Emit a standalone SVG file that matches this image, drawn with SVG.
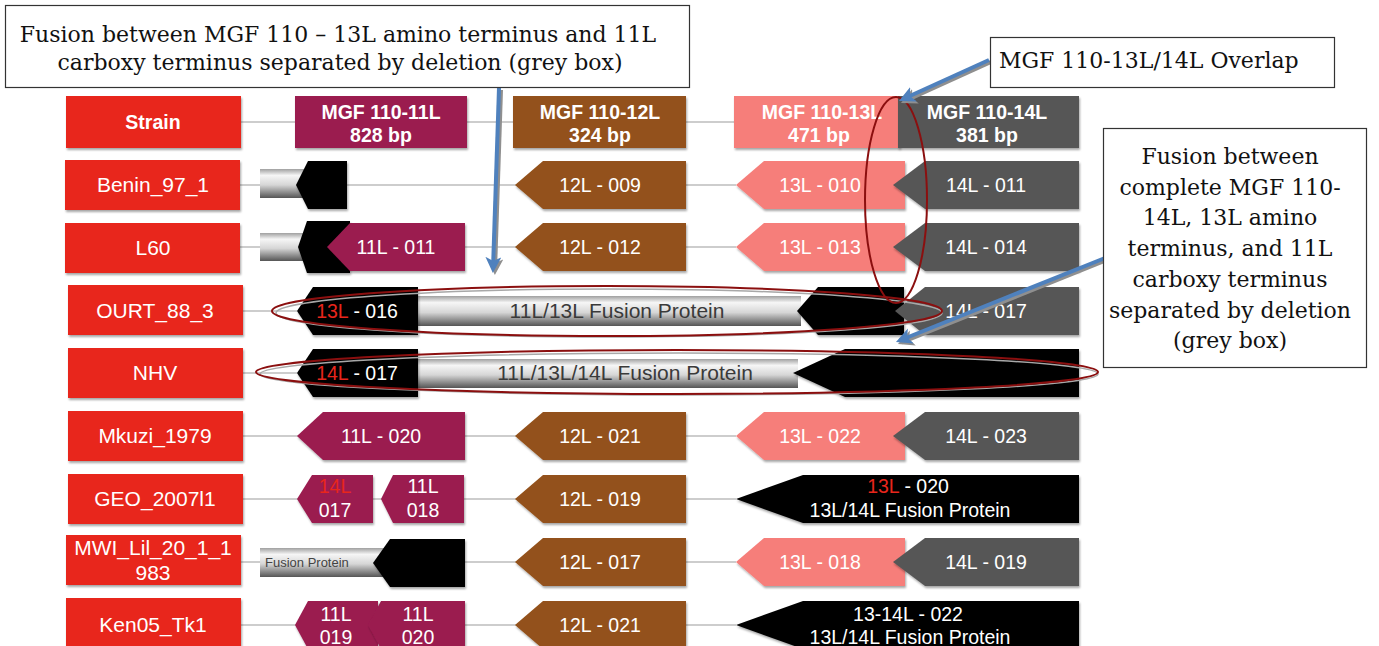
<svg xmlns="http://www.w3.org/2000/svg" width="1379" height="646" viewBox="0 0 1379 646">
<defs>
<style>
.st{fill:#e8261c}
.m{fill:#9b1b50}
.b{fill:#93511a}
.s{fill:#f67e7a}
.g{fill:#575757}
.k{fill:#000}
.bar{fill:url(#gbar)}
.t{font-family:"Liberation Sans",Arial,sans-serif;fill:#fff;text-anchor:middle;font-size:19.5px}
.n{font-family:"Liberation Sans",Arial,sans-serif;fill:#fff;text-anchor:middle;font-size:21px}
.h{font-family:"Liberation Sans",Arial,sans-serif;fill:#fff;text-anchor:middle;font-size:19.5px;font-weight:bold}
.d{font-family:"Liberation Sans",Arial,sans-serif;fill:#3a3a3a;text-anchor:middle;font-size:21px}
.r{fill:#e8261c}
.ln{stroke:#bdbdbd;stroke-width:1.5;fill:none}
.cb{fill:#fff;stroke:#333;stroke-width:1.2}
.ct{font-family:"DejaVu Serif","Liberation Serif",serif;fill:#111;font-size:22px}
.ar{stroke:#4f81bd;stroke-width:4;fill:none}
.as{stroke:#8f8f8f;stroke-width:4;fill:none}
.el{fill:none;stroke:#8b0f0f;stroke-width:2}
.eg{fill:none;stroke:#a8a8a8;stroke-width:1.5}
.sh{filter:url(#sh)}
</style>
<linearGradient id="gbar" x1="0" y1="0" x2="0" y2="1">
<stop offset="0" stop-color="#a0a0a0"/>
<stop offset="0.22" stop-color="#f6f6f6"/>
<stop offset="0.55" stop-color="#d6d6d6"/>
<stop offset="1" stop-color="#555"/>
</linearGradient>
<filter id="sh" x="-5%" y="-10%" width="110%" height="130%">
<feDropShadow dx="1" dy="2" stdDeviation="1.2" flood-color="#000" flood-opacity="0.35"/>
</filter>
<marker id="ah" markerWidth="4.5" markerHeight="4.5" refX="3" refY="2" orient="auto" markerUnits="strokeWidth">
<path d="M0,0 L4,2 L0,4 L1,2 z" fill="#4f81bd"/>
</marker>
<marker id="ahs" markerWidth="4.5" markerHeight="4.5" refX="3" refY="2" orient="auto" markerUnits="strokeWidth">
<path d="M0,0 L4,2 L0,4 L1,2 z" fill="#8f8f8f"/>
</marker>
</defs>
<rect width="1379" height="646" fill="#fff"/>

<g id="connectors">
<line class="ln" x1="240" y1="122" x2="734" y2="122"/>
<line class="ln" x1="240" y1="185" x2="736" y2="185"/>
<line class="ln" x1="240" y1="247" x2="736" y2="247"/>
<line class="ln" x1="243" y1="311" x2="297" y2="311"/>
<line class="ln" x1="243" y1="373" x2="297" y2="373"/>
<line class="ln" x1="243" y1="436" x2="736" y2="436"/>
<line class="ln" x1="243" y1="499" x2="736" y2="499"/>
<line class="ln" x1="240" y1="562" x2="736" y2="562"/>
<line class="ln" x1="240" y1="625" x2="736" y2="625"/>
</g>

<g id="header">
<rect class="st sh" x="66" y="96" width="175" height="52"/>
<text class="h" x="153" y="129" font-size="21">Strain</text>
<rect class="m sh" x="295" y="96" width="172" height="52"/>
<text class="h" x="381" y="119">MGF 110-11L</text><text class="h" x="381" y="142">828 bp</text>
<rect class="b sh" x="513" y="96" width="173" height="52"/>
<text class="h" x="600" y="119">MGF 110-12L</text><text class="h" x="600" y="142">324 bp</text>
<rect class="s sh" x="734" y="96" width="166" height="52"/>
<text class="h" x="822" y="119">MGF 110-13L</text><text class="h" x="819" y="142">471 bp</text>
<rect class="g sh" x="898" y="96" width="181" height="52"/>
<text class="h" x="987" y="119">MGF 110-14L</text><text class="h" x="987" y="142">381 bp</text>
</g>

<g id="row-benin">
<rect class="st sh" x="65" y="160" width="175" height="50"/>
<text class="n" x="153" y="192">Benin_97_1</text>
<rect class="bar" x="260" y="169" width="47" height="29"/>
<polygon class="k sh" points="296,185 308,161 347,161 347,209 308,209"/>
<polygon class="b sh" points="515,185 543,161 686,161 686,209 543,209"/>
<text class="t" x="600" y="192">12L - 009</text>
<polygon class="s sh" points="736,185 764,161 905,161 905,209 764,209"/>
<text class="t" x="820" y="192">13L - 010</text>
<polygon class="g sh" points="893,185 925,161 1079,161 1079,209 925,209"/>
<text class="t" x="986" y="192">14L - 011</text>
</g>

<g id="row-l60">
<rect class="st sh" x="65" y="223" width="175" height="50"/>
<text class="n" x="153" y="255">L60</text>
<rect class="bar" x="260" y="233" width="45" height="28"/>
<polygon class="k sh" points="298,247 307,221 350,221 350,273 307,273"/>
<polygon class="m sh" points="327,247 350,223 465,223 465,271 350,271"/>
<text class="t" x="396" y="254">11L - 011</text>
<polygon class="b sh" points="515,247 543,223 686,223 686,271 543,271"/>
<text class="t" x="600" y="254">12L - 012</text>
<polygon class="s sh" points="736,247 764,223 905,223 905,271 764,271"/>
<text class="t" x="820" y="254">13L - 013</text>
<polygon class="g sh" points="893,247 925,223 1079,223 1079,271 925,271"/>
<text class="t" x="986" y="254">14L - 014</text>
</g>

<g id="row-ourt">
<rect class="st sh" x="68" y="285" width="175" height="50"/>
<text class="n" x="155" y="318">OURT_88_3</text>
<rect class="bar" x="416" y="296" width="385" height="30"/>
<text class="d" x="617" y="318">11L/13L Fusion Protein</text>
<polygon class="k sh" points="297,311 313,287 418,287 418,335 313,335"/>
<text class="t" x="357" y="318"><tspan class="r">13L</tspan> - 016</text>
<polygon class="k sh" points="797,311 818,287 904,287 904,335 818,335"/>
<polygon class="g sh" points="895,311 925,287 1079,287 1079,335 925,335"/>
<text class="t" x="986" y="318">14L - 017</text>
</g>

<g id="row-nhv">
<rect class="st sh" x="68" y="348" width="175" height="50"/>
<text class="n" x="155" y="380">NHV</text>
<rect class="bar" x="416" y="359" width="382" height="29"/>
<text class="d" x="625" y="380">11L/13L/14L Fusion Protein</text>
<polygon class="k sh" points="297,373 313,349 418,349 418,397 313,397"/>
<text class="t" x="357" y="380"><tspan class="r">14L</tspan> - 017</text>
<polygon class="k sh" points="793,373 845,349 1079,349 1079,397 845,397"/>
</g>

<g id="row-mkuzi">
<rect class="st sh" x="68" y="411" width="175" height="50"/>
<text class="n" x="155" y="443">Mkuzi_1979</text>
<polygon class="m sh" points="297,436 323,412 465,412 465,460 323,460"/>
<text class="t" x="381" y="443">11L - 020</text>
<polygon class="b sh" points="515,436 543,412 686,412 686,460 543,460"/>
<text class="t" x="600" y="443">12L - 021</text>
<polygon class="s sh" points="736,436 764,412 905,412 905,460 764,460"/>
<text class="t" x="820" y="443">13L - 022</text>
<polygon class="g sh" points="893,436 925,412 1079,412 1079,460 925,460"/>
<text class="t" x="986" y="443">14L - 023</text>
</g>

<g id="row-geo">
<rect class="st sh" x="68" y="474" width="175" height="50"/>
<text class="n" x="155" y="506">GEO_2007l1</text>
<polygon class="m sh" points="297,499 312,475 373,475 373,523 312,523"/>
<text class="t" x="335" y="493"><tspan class="r">14L</tspan></text>
<text class="t" x="335" y="517">017</text>
<polygon class="m sh" points="381,499 393,475 464,475 464,523 393,523"/>
<text class="t" x="423" y="493">11L</text>
<text class="t" x="423" y="517">018</text>
<polygon class="b sh" points="515,499 543,475 686,475 686,523 543,523"/>
<text class="t" x="600" y="506">12L - 019</text>
<polygon class="k sh" points="736,499 803,475 1079,475 1079,523 803,523"/>
<text class="t" x="908" y="493"><tspan class="r">13L</tspan> - 020</text>
<text class="t" x="910" y="517" font-size="20.5">13L/14L Fusion Protein</text>
</g>

<g id="row-mwi">
<rect class="st sh" x="66" y="535" width="175" height="50"/>
<text class="n" x="153" y="555">MWI_Lil_20_1_1</text>
<text class="n" x="153" y="580">983</text>
<rect class="bar" x="260" y="548" width="132" height="29"/>
<text x="265" y="567" font-family="Liberation Sans, Arial, sans-serif" font-size="13" fill="#444">Fusion Protein</text>
<polygon class="k sh" points="373,563 390,539 465,539 465,587 390,587"/>
<polygon class="b sh" points="515,562 543,538 686,538 686,586 543,586"/>
<text class="t" x="600" y="569">12L - 017</text>
<polygon class="s sh" points="736,562 764,538 905,538 905,586 764,586"/>
<text class="t" x="820" y="569">13L - 018</text>
<polygon class="g sh" points="893,562 925,538 1079,538 1079,586 925,586"/>
<text class="t" x="986" y="569">14L - 019</text>
</g>

<g id="row-ken05">
<rect class="st sh" x="66" y="598" width="175" height="52"/>
<text class="n" x="153" y="632">Ken05_Tk1</text>
<polygon class="m sh" points="295,625 308,601 378,601 378,649 308,649"/>
<text class="t" x="336" y="621">11L</text>
<text class="t" x="336" y="644">019</text>
<polygon class="m sh" points="368,625 381,601 465,601 465,649 381,649"/>
<text class="t" x="418" y="621">11L</text>
<text class="t" x="418" y="644">020</text>
<polygon class="b sh" points="515,625 543,601 686,601 686,649 543,649"/>
<text class="t" x="600" y="632">12L - 021</text>
<polygon class="k sh" points="736,625 803,601 1079,601 1079,649 803,649"/>
<text class="t" x="908" y="621">13-14L - 022</text>
<text class="t" x="910" y="644" font-size="20.5">13L/14L Fusion Protein</text>
</g>

<g id="highlights">
<ellipse class="eg" cx="609" cy="313" rx="333" ry="24"/>
<ellipse class="el" cx="607" cy="311" rx="335" ry="25"/>
<ellipse class="eg" cx="679" cy="374" rx="419" ry="21"/>
<ellipse class="el" cx="677" cy="372" rx="421" ry="22"/>
<ellipse class="el" cx="896" cy="200" rx="31" ry="103"/>
</g>

<g id="arrows">
<line class="as" x1="501" y1="90" x2="495" y2="271" marker-end="url(#ahs)"/>
<line class="ar" x1="499" y1="88" x2="493" y2="269" marker-end="url(#ah)"/>
<line class="as" x1="991" y1="62" x2="904.6" y2="101.3" marker-end="url(#ahs)"/>
<line class="ar" x1="989" y1="60" x2="902.6" y2="99.3" marker-end="url(#ah)"/>
<line class="as" x1="1107" y1="260" x2="901.7" y2="342.5" marker-end="url(#ahs)"/>
<line class="ar" x1="1105" y1="258" x2="899.7" y2="340.5" marker-end="url(#ah)"/>
</g>

<g id="callout-fusion-13-11">
<rect class="cb" x="5.5" y="5.5" width="684" height="82"/>
<text class="ct" x="338" y="42" text-anchor="middle">Fusion between MGF 110 – 13L amino terminus and 11L</text>
<text class="ct" x="340" y="70" text-anchor="middle">carboxy terminus separated by deletion (grey box)</text>
</g>

<g id="callout-overlap">
<rect class="cb" x="990.5" y="37.5" width="344" height="50"/>
<text class="ct" x="999" y="68">MGF 110-13L/14L Overlap</text>
</g>

<g id="callout-fusion-14">
<rect class="cb" x="1103.5" y="128.5" width="263" height="239"/>
<text class="ct" text-anchor="middle" x="1230" y="164">Fusion between</text>
<text class="ct" text-anchor="middle" x="1230" y="195">complete MGF 110-</text>
<text class="ct" text-anchor="middle" x="1230" y="225">14L, 13L amino</text>
<text class="ct" text-anchor="middle" x="1230" y="256">terminus, and 11L</text>
<text class="ct" text-anchor="middle" x="1230" y="287">carboxy terminus</text>
<text class="ct" text-anchor="middle" x="1230" y="318">separated by deletion</text>
<text class="ct" text-anchor="middle" x="1230" y="348">(grey box)</text>
</g>
</svg>
